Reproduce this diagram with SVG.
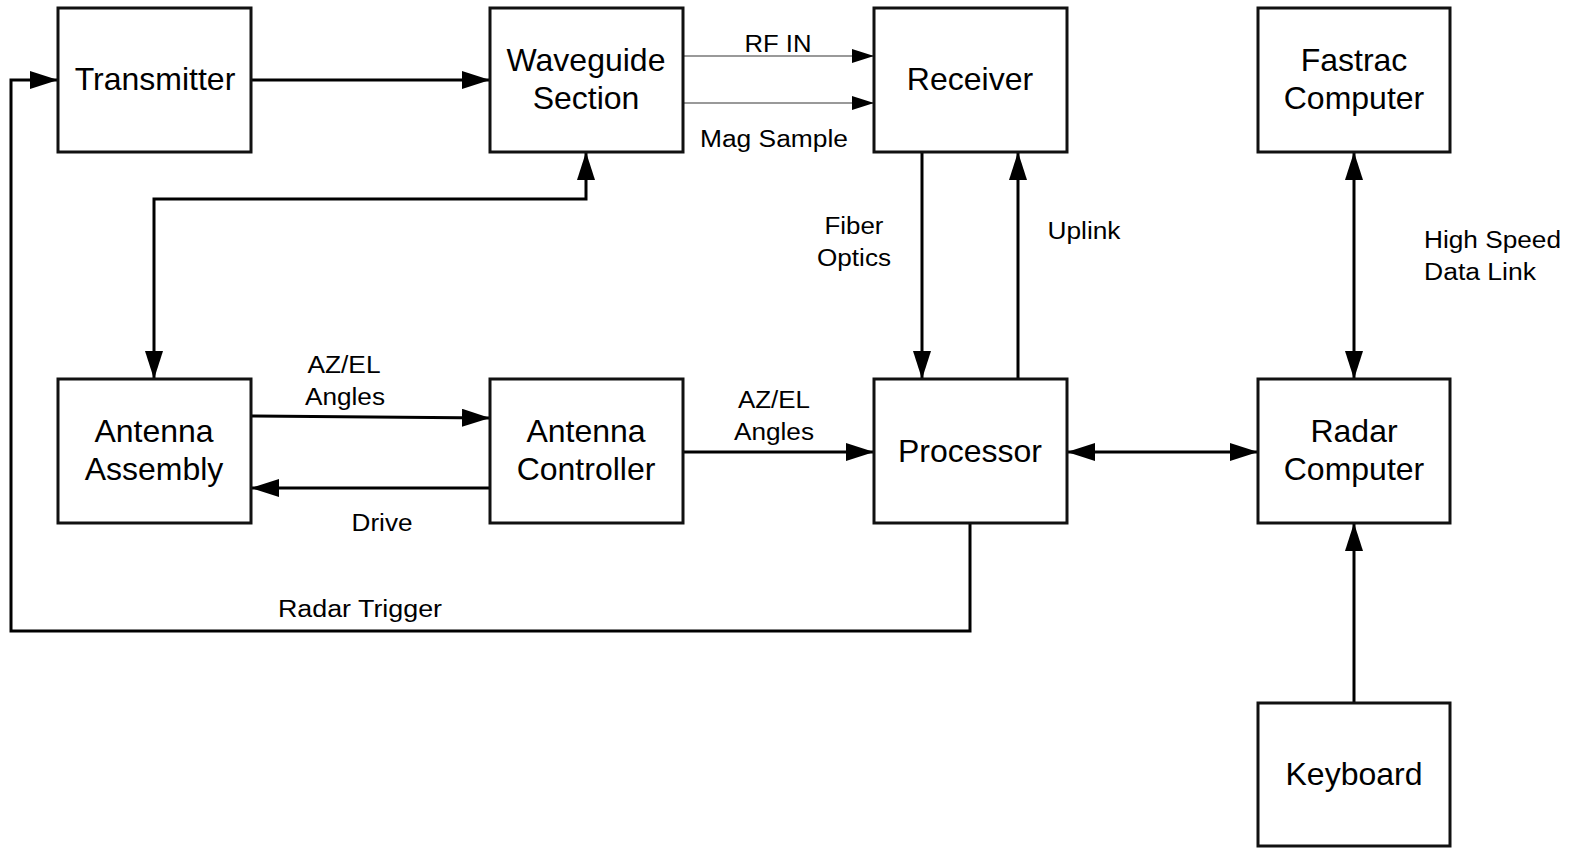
<svg xmlns="http://www.w3.org/2000/svg" width="1569" height="848" viewBox="0 0 1569 848">
<style>
.box{fill:#fff;stroke:#111;stroke-width:3}
.nt{font-family:"Liberation Sans",Arial,sans-serif;font-size:32px;fill:#000;text-anchor:middle}
.lb{font-family:"Liberation Sans",Arial,sans-serif;font-size:23.5px;fill:#000;text-anchor:middle}
.ls{text-anchor:start}
.ln{fill:none;stroke:#000;stroke-width:3}
.thin{fill:none;stroke:#777;stroke-width:1.6}
</style>
<defs>
<marker id="ah" markerUnits="userSpaceOnUse" markerWidth="28" markerHeight="18" refX="28" refY="9" orient="auto-start-reverse" viewBox="0 0 28 18"><path d="M0,0 L28,9 L0,18 z" fill="#000"/></marker>
<marker id="ahs" markerUnits="userSpaceOnUse" markerWidth="22" markerHeight="14" refX="22" refY="7" orient="auto" viewBox="0 0 22 14"><path d="M0,0 L22,7 L0,14 z" fill="#000"/></marker>
</defs>
<g id="connectors">
<path class="ln" d="M251,80 H490" marker-end="url(#ah)"/>
<path class="thin" d="M683,56 H874" marker-end="url(#ahs)"/>
<path class="thin" d="M683,103 H874" marker-end="url(#ahs)"/>
<path class="ln" d="M586,152 V199 H154 V379" marker-start="url(#ah)" marker-end="url(#ah)"/>
<path class="ln" d="M251,416 L490,418" marker-end="url(#ah)"/>
<path class="ln" d="M490,488 H251" marker-end="url(#ah)"/>
<path class="ln" d="M683,452 H874" marker-end="url(#ah)"/>
<path class="ln" d="M1067,452 H1258" marker-start="url(#ah)" marker-end="url(#ah)"/>
<path class="ln" d="M922,152 V379" marker-end="url(#ah)"/>
<path class="ln" d="M1018,379 V152" marker-end="url(#ah)"/>
<path class="ln" d="M1354,152 V379" marker-start="url(#ah)" marker-end="url(#ah)"/>
<path class="ln" d="M1354,703 V523" marker-end="url(#ah)"/>
<path class="ln" d="M970,523 V631 H11 V80 H58" marker-end="url(#ah)"/>
<text class="lb" x="778" y="52" textLength="67" lengthAdjust="spacingAndGlyphs">RF IN</text>
<text class="lb" x="774" y="147" textLength="148" lengthAdjust="spacingAndGlyphs">Mag Sample</text>
<text class="lb" x="854" y="234" textLength="59" lengthAdjust="spacingAndGlyphs">Fiber</text>
<text class="lb" x="854" y="266" textLength="74" lengthAdjust="spacingAndGlyphs">Optics</text>
<text class="lb" x="1084" y="239" textLength="73" lengthAdjust="spacingAndGlyphs">Uplink</text>
<text class="lb ls" x="1424" y="248" textLength="137" lengthAdjust="spacingAndGlyphs">High Speed</text>
<text class="lb ls" x="1424" y="280" textLength="112" lengthAdjust="spacingAndGlyphs">Data Link</text>
<text class="lb" x="344" y="373" textLength="73" lengthAdjust="spacingAndGlyphs">AZ/EL</text>
<text class="lb" x="345" y="405" textLength="80" lengthAdjust="spacingAndGlyphs">Angles</text>
<text class="lb" x="774" y="408" textLength="72" lengthAdjust="spacingAndGlyphs">AZ/EL</text>
<text class="lb" x="774" y="440" textLength="80" lengthAdjust="spacingAndGlyphs">Angles</text>
<text class="lb" x="382" y="531" textLength="61" lengthAdjust="spacingAndGlyphs">Drive</text>
<text class="lb" x="360" y="617" textLength="164" lengthAdjust="spacingAndGlyphs">Radar Trigger</text>
</g>
<g id="transmitter"><rect class="box" x="58" y="8" width="193" height="144"/><text class="nt" x="155" y="90">Transmitter</text></g>
<g id="waveguide"><rect class="box" x="490" y="8" width="193" height="144"/><text class="nt" x="586" y="71">Waveguide</text><text class="nt" x="586" y="109">Section</text></g>
<g id="receiver"><rect class="box" x="874" y="8" width="193" height="144"/><text class="nt" x="970" y="90">Receiver</text></g>
<g id="fastrac"><rect class="box" x="1258" y="8" width="192" height="144"/><text class="nt" x="1354" y="71">Fastrac</text><text class="nt" x="1354" y="109">Computer</text></g>
<g id="antenna-assembly"><rect class="box" x="58" y="379" width="193" height="144"/><text class="nt" x="154" y="442">Antenna</text><text class="nt" x="154" y="480">Assembly</text></g>
<g id="antenna-controller"><rect class="box" x="490" y="379" width="193" height="144"/><text class="nt" x="586" y="442">Antenna</text><text class="nt" x="586" y="480">Controller</text></g>
<g id="processor"><rect class="box" x="874" y="379" width="193" height="144"/><text class="nt" x="970" y="462">Processor</text></g>
<g id="radar-computer"><rect class="box" x="1258" y="379" width="192" height="144"/><text class="nt" x="1354" y="442">Radar</text><text class="nt" x="1354" y="480">Computer</text></g>
<g id="keyboard"><rect class="box" x="1258" y="703" width="192" height="143"/><text class="nt" x="1354" y="785">Keyboard</text></g>
</svg>
